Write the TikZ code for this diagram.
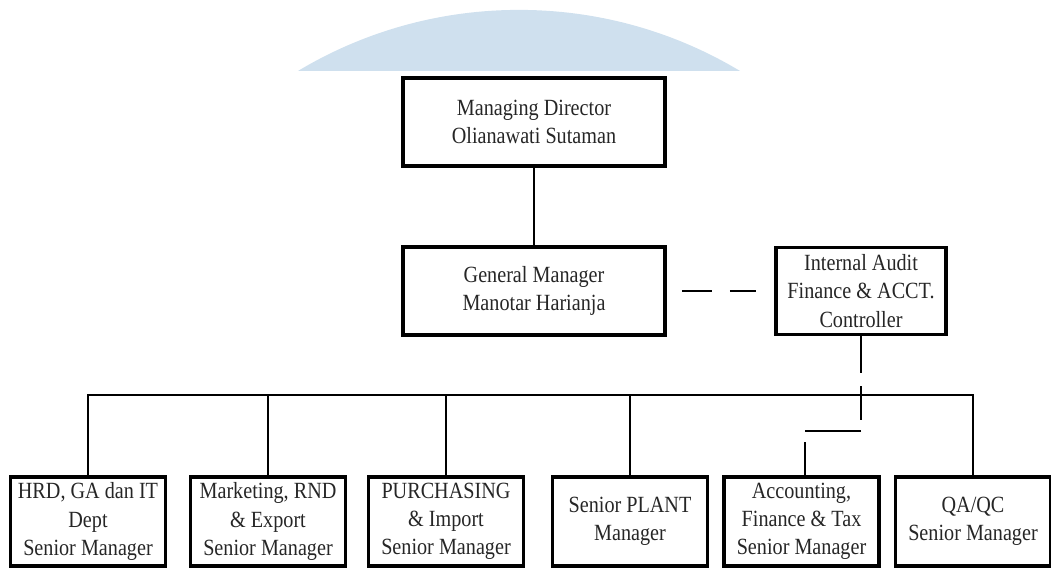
\documentclass[tikz,border=0pt]{standalone}
\usepackage{fontspec}
\setmainfont{Liberation Serif}[FakeStretch=0.87]
\usepackage{xcolor}
\definecolor{arcblue}{RGB}{207,224,238}

\begin{document}
\begin{tikzpicture}[x=0.025cm, y=-0.025cm,
  box/.style={draw, line width=2.5pt, align=center, text=black!85, inner sep=0pt,
    font=\fontsize{16.5}{20}\selectfont},
  topbox/.style={box, minimum width=6.55cm, minimum height=2.2cm},
  auditbox/.style={box, minimum width=4.25cm, minimum height=2.175cm},
  deptbox/.style={box, minimum width=3.875cm, minimum height=2.225cm},
  link/.style={line width=2pt},
  dashlink/.style={link, dash pattern=on 0.75cm off 0.45cm}]
\useasboundingbox (0,0) rectangle (1051,568);

%blue arc
\begin{scope}
\clip (0,0) rectangle (1051,70);
\fill[arcblue] (519,440) circle (10.75cm);
\end{scope}

%top
\node[topbox] (md) at (534,122) {Managing Director\\Olianawati Sutaman};
\node[topbox] (gm) at (534,291) {General Manager\\Manotar Harianja};
\node[auditbox] (ia) at (861,291) {Internal Audit\\Finance \& ACCT.\\Controller};

\draw[link] (md) -- (gm);
\draw[dashlink] ([xshift=0.375cm]gm.east) -- ([xshift=-0.45cm]ia.west);

%departments
\def\Dept#1#2#3{
\node[deptbox] (#1) at (#2,521.5) {#3};
}
\Dept{d1}{88}{HRD, GA dan IT\\Dept\\Senior Manager}
\Dept{d2}{268}{Marketing, RND\\\& Export\\Senior Manager}
\Dept{d3}{446}{PURCHASING\\\& Import\\Senior Manager}
\Dept{d4}{630}{Senior PLANT\\Manager}
\Dept{d5}{801.5}{Accounting,\\Finance \& Tax\\Senior Manager}
\Dept{d6}{973}{QA/QC\\Senior Manager}

%bus
\coordinate (bus) at (0,395);
\draw[link] (d1.north) |- (bus -| d6.north) -- (d6.north);
\foreach \n in {d2,d3,d4}
{ \draw[link] (\n.north) -- (\n.north |- bus); }

%audit to accounting
\coordinate (ia1) at (861,420);
\coordinate (ac1) at (861,431);
\coordinate (ac2) at (805,431);
\coordinate (ac3) at (805,442);
\draw[link, dash pattern=on 0.925cm off 0.325cm] (ia.south) -- (ia1);
\draw[link] (ac1) -- (ac2);
\draw[link] (ac3) -- (ac3 |- d5.north);
\end{tikzpicture}
\end{document}
